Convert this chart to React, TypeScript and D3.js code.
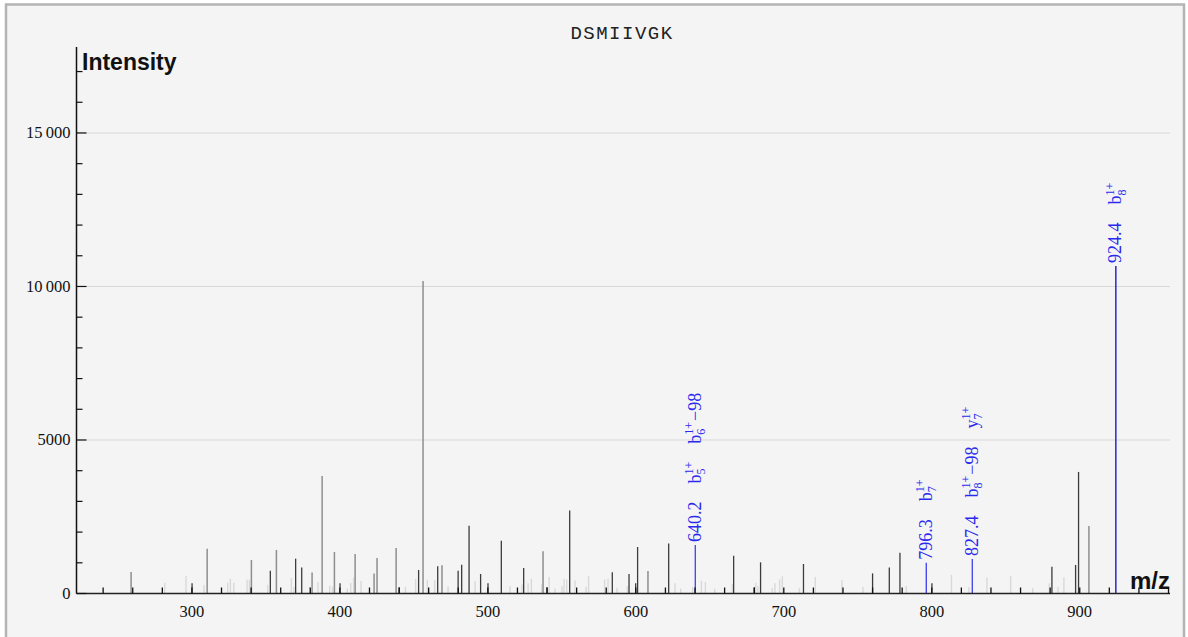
import { useEffect, useRef } from 'react';
import * as d3 from 'd3';

// peptide sequence shown as title
const peptide = 'DSMIIVGK';

// unmatched peaks, split by the shade they are drawn in
const lightMz = [281.6, 296, 308.2, 324.2, 326, 328.3, 337.3, 338.9, 351.2, 367.2, 369, 379.6, 385.2, 393.1, 395, 405, 407.3, 409.3, 414.3, 444.3, 451.2, 459.1, 464.1, 473.1, 491.4, 515, 523.1, 527.2, 529.4, 536.4, 541.4, 545.4, 550.1, 551.5, 553.3, 558.9, 566.4, 568.1, 578.9, 581.2, 587.3, 594.3, 626.5, 630.3, 638.4, 644.3, 647, 653.3, 665.2, 681, 682.5, 692.2, 694, 697.2, 699, 710.6, 721.3, 739.3, 753.5, 782.8, 813.3, 825.1, 837.3, 853.3, 868.2, 879.5, 885.3, 889.3];
const lightIntensity = [350, 570, 277, 350, 480, 350, 450, 450, 280, 505, 220, 220, 375, 260, 220, 160, 350, 520, 410, 220, 470, 450, 450, 240, 410, 240, 290, 330, 480, 290, 540, 160, 240, 470, 450, 420, 220, 570, 460, 480, 190, 240, 330, 160, 220, 420, 380, 160, 310, 350, 250, 180, 330, 460, 560, 180, 540, 440, 220, 240, 610, 200, 525, 570, 180, 330, 220, 530];

const grayMz = [258.9, 310.3, 340.2, 357.1, 381.2, 388, 396.3, 410.3, 423.1, 425.1, 438, 456.2, 469, 537.3, 608.2, 906.2];
const grayIntensity = [700, 1460, 1090, 1420, 680, 3830, 1350, 1285, 655, 1155, 1480, 10180, 920, 1375, 730, 2200];

const darkMz = [300.1, 353, 370.1, 374.2, 400.1, 440.2, 453.2, 466.1, 479.9, 482.3, 487.3, 495.1, 500.1, 509.1, 524.2, 540, 555.3, 584.1, 595.4, 599.9, 601.2, 622.2, 666.1, 680.1, 684.3, 713.3, 760, 771.3, 778.5, 800.1, 881.2, 897.2, 899.2];
const darkIntensity = [330, 745, 1135, 850, 330, 200, 765, 885, 745, 940, 2210, 635, 330, 1720, 830, 200, 2700, 690, 635, 330, 1515, 1625, 1230, 200, 1015, 960, 655, 850, 1330, 330, 875, 930, 3960];

// matched fragment peaks with their ion annotations
const matchedMz = [640.2, 796.3, 827.4, 924.4];
const matchedIntensity = [1580, 1005, 1125, 10670];
const matchedIons = [
    [{ ion: 'b', sup: '1+', sub: '5', loss: '' }, { ion: 'b', sup: '1+', sub: '6', loss: '\u221298' }],
    [{ ion: 'b', sup: '1+', sub: '7', loss: '' }],
    [{ ion: 'b', sup: '1+', sub: '8', loss: '\u221298' }, { ion: 'y', sup: '1+', sub: '7', loss: '' }],
    [{ ion: 'b', sup: '1+', sub: '8', loss: '' }],
];

const xTickValues = [300, 400, 500, 600, 700, 800, 900];
const yTickValues = [0, 5000, 10000, 15000];
const yTickLabels = ['0', '5000', '10\u2009000', '15\u2009000'];

const App = () => {
    const svgRef = useRef<SVGSVGElement>(null);

    useEffect(() => {
        if (!svgRef.current) return;
        d3.select(svgRef.current).selectAll('*').remove();

        const width = 1188;
        const height = 637;
        const serif = '"Liberation Serif", "Times New Roman", serif';
        const sans = '"Liberation Sans", Arial, sans-serif';

        const svg = d3.select(svgRef.current)
            .attr('width', width)
            .attr('height', height);

        // outer frame
        svg.append('rect')
            .attr('x', 6)
            .attr('y', 4.5)
            .attr('width', 1178)
            .attr('height', 700)
            .attr('fill', '#f4f4f4')
            .attr('stroke', '#b4b4b4')
            .attr('stroke-width', 2.5);

        const x = d3.scaleLinear().domain([222, 961]).range([76.5, 1170]);
        const y = d3.scaleLinear().domain([0, 17800]).range([593.5, 47]);

        // grid lines
        svg.append('g')
            .selectAll('line')
            .data(yTickValues.filter(v => v > 0))
            .enter()
            .append('line')
            .attr('x1', x(222))
            .attr('x2', x(961))
            .attr('y1', d => y(d))
            .attr('y2', d => y(d))
            .attr('stroke', '#d8d8d8')
            .attr('stroke-width', 1);

        // peaks
        const drawPeaks = (mz: number[], inten: number[], color: string, w: number) => {
            svg.append('g')
                .selectAll('line')
                .data(mz.map((m, i) => [m, inten[i]]))
                .enter()
                .append('line')
                .attr('x1', d => x(d[0]))
                .attr('x2', d => x(d[0]))
                .attr('y1', y(0))
                .attr('y2', d => y(d[1]))
                .attr('stroke', color)
                .attr('stroke-width', w);
        };
        drawPeaks(lightMz, lightIntensity, '#d9d9d9', 1.4);
        drawPeaks(grayMz, grayIntensity, '#8e8e8e', 1.5);
        drawPeaks(darkMz, darkIntensity, '#3c3c3c', 1.3);
        drawPeaks(matchedMz.slice(0, 3), matchedIntensity.slice(0, 3), '#4a4af2', 1.4);
        drawPeaks(matchedMz.slice(3), matchedIntensity.slice(3), '#0a0ad0', 1.3);

        // x axis with inward minor ticks
        svg.append('line')
            .attr('x1', x(222)).attr('x2', x(961))
            .attr('y1', y(0)).attr('y2', y(0))
            .attr('stroke', '#222').attr('stroke-width', 1.5);
        svg.append('g')
            .selectAll('line')
            .data(d3.range(240, 961, 20))
            .enter()
            .append('line')
            .attr('x1', d => x(d)).attr('x2', d => x(d))
            .attr('y1', y(0)).attr('y2', y(0) - 6)
            .attr('stroke', '#111').attr('stroke-width', 1.3);
        svg.append('g')
            .selectAll('text')
            .data(xTickValues)
            .enter()
            .append('text')
            .attr('x', d => x(d))
            .attr('y', y(0) + 23)
            .attr('text-anchor', 'middle')
            .style('font-family', serif)
            .style('font-size', '16.5px')
            .attr('fill', '#111')
            .text(d => d);

        // y axis with inward ticks
        svg.append('line')
            .attr('x1', x(222)).attr('x2', x(222))
            .attr('y1', y(0)).attr('y2', y(17800))
            .attr('stroke', '#111').attr('stroke-width', 1.5);
        svg.append('g')
            .selectAll('line')
            .data(d3.range(0, 17801, 1000))
            .enter()
            .append('line')
            .attr('x1', x(222))
            .attr('x2', d => x(222) + (d % 5000 === 0 ? 10 : 6))
            .attr('y1', d => y(d)).attr('y2', d => y(d))
            .attr('stroke', '#111').attr('stroke-width', 1.2);
        svg.append('g')
            .selectAll('text')
            .data(yTickValues)
            .enter()
            .append('text')
            .attr('x', x(222) - 6)
            .attr('y', d => y(d))
            .attr('dy', '0.33em')
            .attr('text-anchor', 'end')
            .style('font-family', serif)
            .style('font-size', '16.5px')
            .attr('fill', '#111')
            .text((d, i) => yTickLabels[i]);

        // axis titles
        svg.append('text')
            .attr('x', 82)
            .attr('y', 70)
            .style('font-family', sans)
            .style('font-size', '23px')
            .style('font-weight', 'bold')
            .attr('fill', '#111')
            .text('Intensity');
        svg.append('text')
            .attr('x', 1170)
            .attr('y', 589)
            .attr('text-anchor', 'end')
            .style('font-family', sans)
            .style('font-size', '24px')
            .style('font-weight', 'bold')
            .attr('fill', '#111')
            .text('m/z');

        // chart title
        svg.append('text')
            .attr('x', 622)
            .attr('y', 39)
            .attr('text-anchor', 'middle')
            .style('font-family', '"Liberation Mono", "Courier New", monospace')
            .style('font-size', '19px')
            .style('letter-spacing', '1.5px')
            .attr('fill', '#222')
            .text(peptide);

        // rotated annotations above matched peaks
        const supW = 12.8;
        const subW = 6;
        matchedMz.forEach((mz, i) => {
            const label = svg.append('text')
                .attr('transform', `translate(${x(mz) + 5.5},${y(matchedIntensity[i]) - 3}) rotate(-90)`)
                .attr('fill', '#2a2aee')
                .style('font-family', serif)
                .style('font-size', '18px');
            label.append('tspan').attr('x', 0).attr('y', 0).text(mz.toFixed(1));
            let carry = 0;
            matchedIons[i].forEach(ion => {
                label.append('tspan').attr('y', 0).attr('dx', 18 + carry).text(ion.ion);
                label.append('tspan').attr('y', -7.5).style('font-size', '12px').text(ion.sup);
                label.append('tspan').attr('y', 4.5).attr('dx', -supW).style('font-size', '12px').text(ion.sub);
                if (ion.loss) {
                    label.append('tspan').attr('y', 0).attr('dx', supW - subW + 1).text(ion.loss);
                    carry = 0;
                } else {
                    carry = supW - subW;
                }
            });
        });
    }, []);

    return (
        <svg ref={svgRef} role="img" aria-label="Annotated MS/MS spectrum of DSMIIVGK"
            style={{ position: 'absolute', left: 0, top: 0, display: 'block' }}></svg>
    );
};

export default App;
